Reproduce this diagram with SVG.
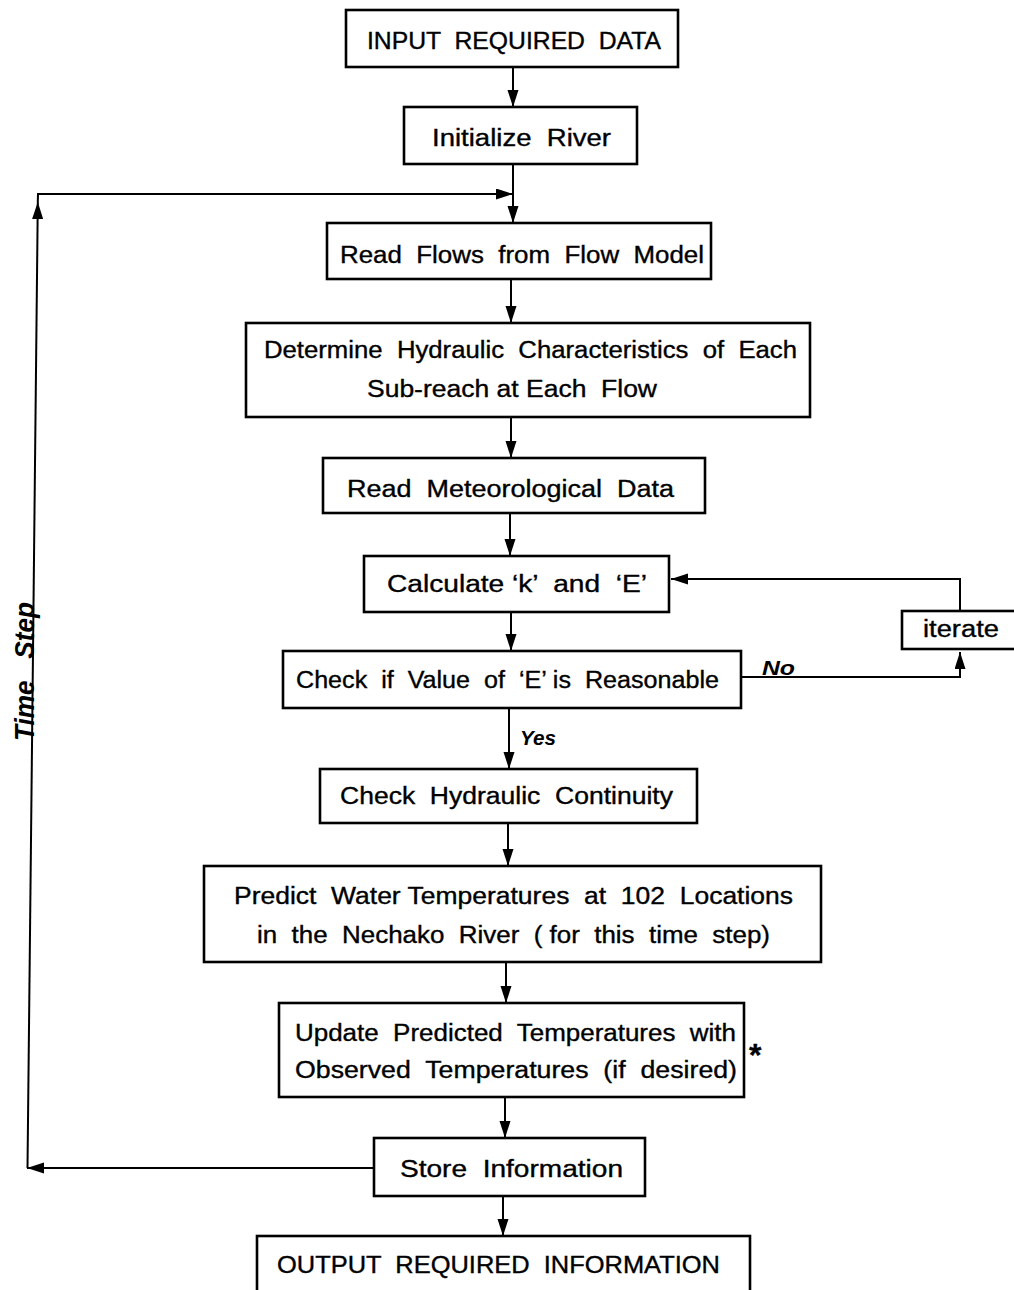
<svg xmlns="http://www.w3.org/2000/svg" width="1014" height="1290" viewBox="0 0 1014 1290" xml:space="preserve">
  <style>
    text { white-space: pre; }
    .box { fill: #fff; stroke: #000; stroke-width: 2.6; }
    .t { font-family: "Liberation Sans", Arial, sans-serif; font-size: 23px; fill: #000; stroke: #000; stroke-width: 0.35; }
    .lbl { font-family: "Liberation Sans", Arial, sans-serif; font-size: 20px; font-weight: bold; font-style: italic; fill: #000; }
    .c { fill: none; stroke: #000; stroke-width: 2; }
  </style>
  <defs>
    <marker id="ah" markerUnits="userSpaceOnUse" markerWidth="18" markerHeight="12" refX="17" refY="5.5" orient="auto">
      <path d="M0,0 L17,5.5 L0,11 Z" fill="#000"/>
    </marker>
  </defs>
  <rect width="1014" height="1290" fill="#fff"/>

  <g id="connectors">
    <path class="c" d="M513,67 V107" marker-end="url(#ah)"/>
    <path class="c" d="M513,164 V223" marker-end="url(#ah)"/>
    <path class="c" d="M511,279 V323" marker-end="url(#ah)"/>
    <path class="c" d="M511,417 V458" marker-end="url(#ah)"/>
    <path class="c" d="M510,513 V556" marker-end="url(#ah)"/>
    <path class="c" d="M511,612 V651" marker-end="url(#ah)"/>
    <path class="c" d="M509,708 V769" marker-end="url(#ah)"/>
    <path class="c" d="M508,823 V866" marker-end="url(#ah)"/>
    <path class="c" d="M506,962 V1003" marker-end="url(#ah)"/>
    <path class="c" d="M505,1097 V1138" marker-end="url(#ah)"/>
    <path class="c" d="M503,1196 V1236" marker-end="url(#ah)"/>
    <path class="c" d="M374,1168 H27" marker-end="url(#ah)"/>
    <path class="c" d="M27.5,1168 L37.8,202" marker-end="url(#ah)"/>
    <path class="c" d="M37.8,202 L38,194 H513" marker-end="url(#ah)"/>
    <path class="c" d="M741,677 H960 V652" marker-end="url(#ah)"/>
    <path class="c" d="M960,611 V579 H671" marker-end="url(#ah)"/>
    <text class="lbl" x="762" y="675" textLength="33" lengthAdjust="spacingAndGlyphs">No</text>
    <text class="lbl" x="520" y="745" textLength="36" lengthAdjust="spacingAndGlyphs">Yes</text>
    <text class="lbl" transform="translate(34,741) rotate(-90)" style="font-size:27px" textLength="139" lengthAdjust="spacingAndGlyphs">Time   Step</text>
  </g>

  <g id="n1"><rect class="box" x="346" y="10" width="332" height="57"/>
    <text class="t" x="367" y="49" textLength="294" lengthAdjust="spacingAndGlyphs">INPUT  REQUIRED  DATA</text></g>
  <g id="n2"><rect class="box" x="404" y="107" width="233" height="57"/>
    <text class="t" x="432" y="146" textLength="179" lengthAdjust="spacingAndGlyphs">Initialize  River</text></g>
  <g id="n3"><rect class="box" x="327" y="223" width="384" height="56"/>
    <text class="t" x="340" y="263" textLength="364" lengthAdjust="spacingAndGlyphs">Read  Flows  from  Flow  Model</text></g>
  <g id="n4"><rect class="box" x="246" y="323" width="564" height="94"/>
    <text class="t" x="264" y="358" textLength="533" lengthAdjust="spacingAndGlyphs">Determine  Hydraulic  Characteristics  of  Each</text>
    <text class="t" x="367" y="397" textLength="290" lengthAdjust="spacingAndGlyphs">Sub-reach at Each  Flow</text></g>
  <g id="n5"><rect class="box" x="323" y="458" width="382" height="55"/>
    <text class="t" x="347" y="497" textLength="327" lengthAdjust="spacingAndGlyphs">Read  Meteorological  Data</text></g>
  <g id="n6"><rect class="box" x="364" y="556" width="305" height="56"/>
    <text class="t" x="387" y="592" textLength="260" lengthAdjust="spacingAndGlyphs">Calculate ‘k’  and  ‘E’</text></g>
  <g id="n7"><rect class="box" x="283" y="651" width="458" height="57"/>
    <text class="t" x="296" y="688" textLength="423" lengthAdjust="spacingAndGlyphs">Check  if  Value  of  ‘E’ is  Reasonable</text></g>
  <g id="n8"><rect class="box" x="320" y="769" width="377" height="54"/>
    <text class="t" x="340" y="804" textLength="333" lengthAdjust="spacingAndGlyphs">Check  Hydraulic  Continuity</text></g>
  <g id="n9"><rect class="box" x="204" y="866" width="617" height="96"/>
    <text class="t" x="234" y="904" textLength="559" lengthAdjust="spacingAndGlyphs">Predict  Water Temperatures  at  102  Locations</text>
    <text class="t" x="257" y="943" textLength="513" lengthAdjust="spacingAndGlyphs">in  the  Nechako  River  ( for  this  time  step)</text></g>
  <g id="n10"><rect class="box" x="279" y="1003" width="465" height="94"/>
    <text class="t" x="295" y="1041" textLength="441" lengthAdjust="spacingAndGlyphs">Update  Predicted  Temperatures  with</text>
    <text class="t" x="295" y="1078" textLength="442" lengthAdjust="spacingAndGlyphs">Observed  Temperatures  (if  desired)</text>
    <text class="t" x="749" y="1066" style="font-size:32px;font-weight:bold">*</text></g>
  <g id="n11"><rect class="box" x="374" y="1138" width="271" height="58"/>
    <text class="t" x="400" y="1177" textLength="223" lengthAdjust="spacingAndGlyphs">Store  Information</text></g>
  <g id="n12"><rect class="box" x="257" y="1236" width="493" height="70"/>
    <text class="t" x="277" y="1273" textLength="443" lengthAdjust="spacingAndGlyphs">OUTPUT  REQUIRED  INFORMATION</text></g>
  <g id="n13"><rect class="box" x="902" y="611" width="130" height="38"/>
    <text class="t" x="923" y="637" textLength="76" lengthAdjust="spacingAndGlyphs">iterate</text></g>
</svg>
